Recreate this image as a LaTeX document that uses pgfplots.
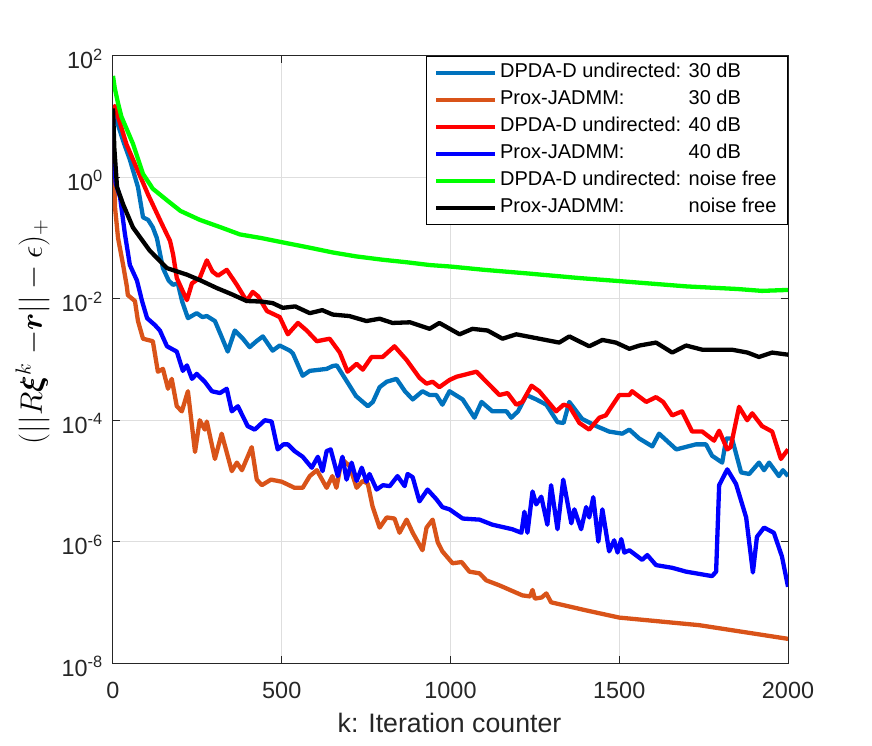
\RequirePackage{fix-cm}
\documentclass[border=0pt]{standalone}
\usepackage{pgfplots}
\pgfplotsset{compat=1.18}
\usepackage{fontspec}
\setmainfont{Liberation Sans}
\usepackage{bm}
\definecolor{mblue}{RGB}{0,114,189}
\definecolor{morange}{RGB}{217,83,25}
\definecolor{axgray}{RGB}{38,38,38}
\definecolor{gridgray}{RGB}{222,222,222}
\begin{document}
\begin{tikzpicture}
\useasboundingbox (-113pt,-83pt) rectangle (759pt,663pt);
\begin{axis}[
  at={(0pt,0pt)}, anchor=south west,
  scale only axis, width=675pt, height=607pt,
  ymode=log, xmin=0, xmax=2000, ymin=1e-8, ymax=1e2,
  xtick={0,500,1000,1500,2000},
  xticklabels={0,500,1000,1500,2000},
  ytick={1e-8,1e-6,1e-4,1e-2,1,1e2},
  yticklabels={10\textsuperscript{-8},10\textsuperscript{-6},10\textsuperscript{-4},10\textsuperscript{-2},10\textsuperscript{0},10\textsuperscript{2}},
  yminorticks=false, xminorticks=false,
  tick align=inside, major tick length=7pt,
  grid=major, major grid style={gridgray, line width=1pt},
  axis line style={axgray, line width=1pt},
  every tick/.style={axgray, line width=1pt},
  tick label style={font=\fontsize{23.4}{26}\selectfont, text=axgray},
  xticklabel style={anchor=base, yshift=-35.6pt},
  yticklabel style={anchor=base east, inner sep=0pt, xshift=-10pt, yshift=-13pt},
  xlabel={k: Iteration counter},
  xlabel style={at={(axis description cs:0.4985,0)}, anchor=base, yshift=-69pt, font=\fontsize{26.7}{30}\selectfont, text=axgray},
  ylabel={$(||R\bm{\xi}^k\;{-}\bm{r}||-\epsilon)_+$},
  ylabel style={at={(axis description cs:-0.1193,0.5461)}, anchor=center, font=\fontsize{31}{34}\selectfont, text=black},
  legend style={at={(1,1)}, anchor=north east, draw=black, line width=1pt, fill=white,
    font=\fontsize{20}{24}\selectfont, inner xsep=8pt, inner ysep=3pt, row sep=0pt,
    nodes={inner xsep=3pt, inner ysep=3.5pt, text height=15pt, text depth=5pt}},
  legend cell align=left,
  legend image code/.code={\draw[#1, line width=4pt] (0pt,0pt) -- (59pt,0pt);},
  every axis plot/.append style={line width=4.3pt, line join=round},
]
\addplot[color=mblue] coordinates {
(0,13) (10,8.9) (30,4) (50,1.96) (74,0.69) (89,0.22) (104,0.2) (118,0.15) (130,0.1) (148,0.032) (165,0.02) (178,0.017) (192,0.018) (205,0.009) (222,0.0048) (248,0.0058) (265,0.005) (278,0.0052) (302,0.0043) (320,0.0025) (340,0.00135) (361,0.003) (385,0.0022) (405,0.0016) (425,0.002) (444,0.0024) (473,0.0014) (494,0.0017) (524,0.0014) (533,0.00126) (562,0.00054) (583,0.00065) (633,0.0007) (651,0.00078) (663,0.0008) (701,0.00037) (720,0.00025) (755,0.00017) (770,0.0002) (790,0.00035) (811,0.00043) (840,0.00048) (865,0.0003) (888,0.00022) (917,0.0003) (938,0.00026) (958,0.00026) (976,0.00018) (997,0.0003) (1036,0.00022) (1071,0.00011) (1092,0.0002) (1124,0.00014) (1166,0.00014) (1180,0.00011) (1200,0.00014) (1225,0.00026) (1254,0.00022) (1284,0.00018) (1317,0.000093) (1335,0.00009) (1352,0.0002) (1390,0.000105) (1432,0.00008) (1470,0.000065) (1509,0.00006) (1530,0.00007) (1559,0.00005) (1598,0.000037) (1618,0.00006) (1669,0.000033) (1727,0.00004) (1757,0.00004) (1775,0.000026) (1805,0.00002) (1817,0.00005) (1834,0.00005) (1861,0.0000138) (1885,0.000013) (1914,0.00002) (1929,0.000015) (1944,0.00002) (1973,0.000012) (1985,0.000015) (2000,0.000012)
};
\addlegendentry{DPDA-D undirected: 30 dB}
\addplot[color=morange] coordinates {
(0,10) (3,2) (6,0.32) (15,0.1) (30,0.036) (41,0.016) (44,0.0115) (65,0.0092) (74,0.0043) (89,0.0022) (118,0.002) (133,0.00063) (148,0.0007) (163,0.00033) (174,0.00048) (189,0.00017) (204,0.00014) (222,0.0003) (243,0.00003) (257,0.0001) (272,0.00007) (278,0.000095) (302,0.000023) (322,0.00006) (352,0.0000145) (367,0.00002) (382,0.000015) (411,0.000036) (426,0.0000105) (441,0.0000085) (468,0.0000105) (500,0.0000097) (538,0.0000077) (562,0.0000077) (583,0.000012) (604,0.000015) (633,0.0000077) (650,0.000012) (662,0.0000077) (678,0.000023) (701,0.0000175) (722,0.0000077) (740,0.00001) (755,0.000009) (769,0.0000038) (790,0.0000017) (811,0.0000025) (834,0.0000024) (849,0.0000014) (870,0.0000023) (888,0.0000014) (917,7.2e-7) (929,0.0000017) (947,0.0000023) (962,9.8e-7) (976,6.9e-7) (1006,4.4e-7) (1033,4.6e-7) (1056,3.2e-7) (1086,3e-7) (1106,2.3e-7) (1145,1.9e-7) (1213,1.3e-7) (1236,1.25e-7) (1243,1.6e-7) (1250,1.15e-7) (1270,1.2e-7) (1284,1.4e-7) (1298,1e-7) (1400,7.4e-8) (1500,5.6e-8) (1737,4.2e-8) (2000,2.5e-8)
};
\addlegendentry{\rlap{Prox-JADMM:}\phantom{DPDA-D undirected: }30 dB}
\addplot[color=red] coordinates {
(0,13) (5,15) (15,10) (40,3.5) (65,1.66) (104,0.52) (145,0.17) (169,0.09) (178,0.054) (189,0.022) (205,0.014) (219,0.0095) (234,0.018) (257,0.022) (278,0.043) (295,0.028) (311,0.024) (337,0.03) (367,0.017) (396,0.0092) (414,0.013) (430,0.011) (456,0.0063) (494,0.005) (518,0.0026) (548,0.004) (574,0.003) (604,0.002) (642,0.0022) (672,0.0013) (695,0.00063) (722,0.00085) (740,0.00068) (766,0.0011) (799,0.0011) (834,0.00165) (870,0.00098) (908,0.0005) (929,0.0004) (947,0.00043) (967,0.00035) (997,0.00046) (1018,0.00052) (1077,0.00063) (1145,0.00026) (1169,0.00028) (1195,0.00018) (1213,0.0002) (1240,0.00037) (1263,0.0003) (1313,0.00014) (1335,0.00018) (1352,0.00017) (1382,0.00009) (1411,0.00007) (1441,0.00011) (1460,0.00012) (1500,0.00026) (1530,0.00026) (1538,0.0003) (1580,0.0002) (1609,0.00024) (1630,0.0002) (1657,0.00012) (1686,0.00014) (1716,0.000065) (1746,0.000065) (1781,0.000046) (1796,0.000067) (1820,0.000033) (1830,0.000036) (1855,0.000166) (1879,0.0001) (1894,0.00013) (1923,0.00008) (1953,0.000065) (1979,0.000023) (2000,0.000033)
};
\addlegendentry{DPDA-D undirected: 40 dB}
\addplot[color=blue] coordinates {
(0,10) (3,2) (8,0.8) (21,0.47) (35,0.12) (50,0.036) (71,0.02) (86,0.0092) (101,0.0048) (124,0.0037) (139,0.003) (160,0.00165) (189,0.00135) (207,0.00065) (219,0.0008) (234,0.00048) (248,0.00058) (272,0.00043) (293,0.0003) (317,0.00028) (337,0.00033) (352,0.00014) (370,0.00017) (399,0.00008) (420,0.00007) (450,0.0001) (470,0.000095) (488,0.000033) (505,0.00004) (518,0.00004) (538,0.000031) (562,0.000025) (589,0.0000165) (607,0.000025) (621,0.0000145) (633,0.000031) (645,0.000033) (666,0.000012) (680,0.000025) (692,0.0000105) (707,0.00002) (722,0.00001) (737,0.0000165) (751,0.0000097) (760,0.000013) (781,0.0000072) (800,0.0000085) (820,0.0000082) (843,0.000012) (864,0.0000082) (873,0.000013) (888,0.0000115) (908,0.0000046) (932,0.0000072) (958,0.000005) (976,0.0000037) (997,0.0000034) (1036,0.0000024) (1086,0.0000023) (1124,0.0000019) (1183,0.0000016) (1210,0.0000014) (1219,0.0000031) (1228,0.0000014) (1243,0.0000067) (1254,0.0000041) (1269,0.0000055) (1287,0.0000019) (1298,0.0000085) (1317,0.0000016) (1334,0.0000105) (1358,0.000002) (1367,0.0000034) (1387,0.0000016) (1402,0.0000037) (1411,0.0000025) (1423,0.0000054) (1438,0.000001) (1450,0.0000034) (1470,6.9e-7) (1485,1.05e-6) (1495,6.6e-7) (1506,1.1e-6) (1515,6.6e-7) (1530,7.2e-7) (1568,5e-7) (1583,6e-7) (1609,4.1e-7) (1657,3.7e-7) (1698,3.2e-7) (1775,2.7e-7) (1787,3.2e-7) (1796,8.5e-6) (1820,1.55e-5) (1846,8.9e-6) (1876,2.5e-6) (1896,3.1e-7) (1908,1.2e-6) (1929,1.7e-6) (1958,1.4e-6) (1982,5.7e-7) (2000,1.8e-7)
};
\addlegendentry{\rlap{Prox-JADMM:}\phantom{DPDA-D undirected: }40 dB}
\addplot[color=green] coordinates {
(0,47) (5,30) (15,16.6) (25,10) (59,3.6) (89,1.14) (118,0.65) (160,0.42) (200,0.28) (257,0.2) (320,0.15) (376,0.115) (440,0.1) (503,0.085) (580,0.07) (651,0.058) (720,0.05) (799,0.044) (870,0.04) (938,0.036) (1000,0.034) (1100,0.03) (1234,0.026) (1380,0.022) (1530,0.019) (1700,0.016) (1850,0.0145) (1923,0.0135) (2000,0.014)
};
\addlegendentry{DPDA-D undirected: noise free}
\addplot[color=black] coordinates {
(0,13.7) (4,3) (12,0.69) (30,0.36) (59,0.15) (109,0.062) (160,0.032) (219,0.025) (260,0.02) (308,0.015) (350,0.012) (396,0.0092) (440,0.009) (473,0.0085) (503,0.0071) (540,0.0075) (583,0.0058) (620,0.0065) (651,0.0055) (700,0.0052) (751,0.0043) (790,0.0047) (828,0.004) (880,0.0041) (938,0.0032) (967,0.004) (1027,0.0026) (1065,0.0032) (1110,0.003) (1154,0.0022) (1195,0.0026) (1263,0.0022) (1322,0.0019) (1352,0.0024) (1411,0.00165) (1450,0.0021) (1490,0.0019) (1530,0.0015) (1560,0.0017) (1609,0.0019) (1657,0.0013) (1698,0.0017) (1746,0.00145) (1834,0.00145) (1880,0.0013) (1914,0.0011) (1953,0.0013) (2000,0.0012)
};
\addlegendentry{\rlap{Prox-JADMM:}\phantom{DPDA-D undirected: }noise free}
\end{axis}
\end{tikzpicture}
\end{document}
